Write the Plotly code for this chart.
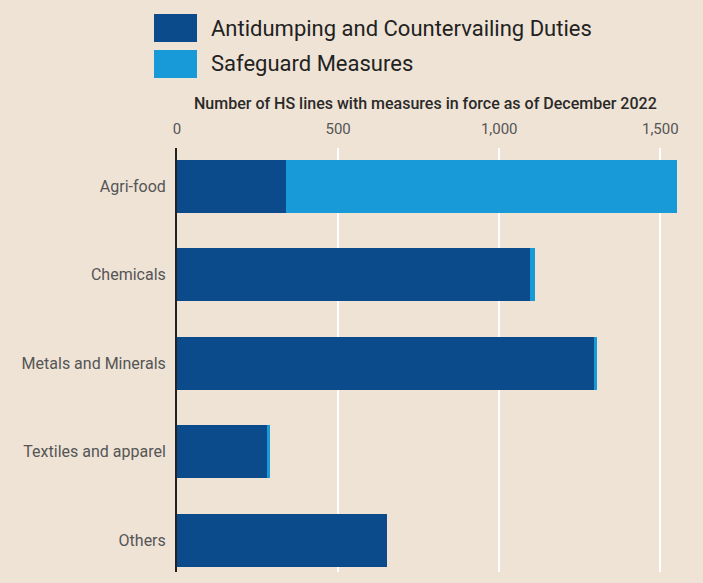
import plotly.graph_objects as go

# HS lines with trade remedy measures in force, December 2022
categories = ["Agri-food", "Chemicals", "Metals and Minerals", "Textiles and apparel", "Others"]
ad_cvd = [338, 1096, 1295, 280, 652]
safeguard = [1215, 16, 9, 9, 0]

series_names = ["Antidumping and Countervailing Duties", "Safeguard Measures"]
series_colors = ["#0B4A8B", "#1899D8"]

BG = "#EFE3D5"
W, H = 703, 583
ML, MR, MT, MB = 177, 4, 148, 11

fig = go.Figure()
for name, vals, color in zip(series_names, [ad_cvd, safeguard], series_colors):
    fig.add_trace(go.Bar(
        y=categories, x=vals, name=name, orientation="h",
        marker=dict(color=color, line=dict(width=0)),
        width=0.6, showlegend=False,
    ))

# px -> paper helpers for the header elements
pw, ph = W - ML - MR, H - MT - MB
def px_x(x):
    return (x - ML) / pw
def px_y(y):
    return (H - MB - y) / ph

shapes, annotations = [], []
for i, (name, color) in enumerate(zip(series_names, series_colors)):
    top = 14 + i * 36
    shapes.append(dict(type="rect", xref="paper", yref="paper",
                       x0=px_x(154), x1=px_x(197), y0=px_y(top + 28), y1=px_y(top),
                       fillcolor=color, line=dict(width=0)))
    annotations.append(dict(text=name, xref="paper", yref="paper",
                            x=px_x(209), y=px_y(top + 14), xanchor="left", yanchor="middle",
                            showarrow=False, font=dict(family="Roboto", size=22, color="#222")))

annotations.append(dict(text="Number of HS lines with measures in force as of December 2022",
                        xref="paper", yref="paper", x=px_x(425), y=px_y(103),
                        xanchor="center", yanchor="middle", showarrow=False,
                        font=dict(family="Roboto", size=16, color="#2a2a2a", weight=500)))

fig.update_layout(
    width=W, height=H,
    margin=dict(l=ML, r=MR, t=MT, b=MB, pad=0),
    paper_bgcolor=BG, plot_bgcolor=BG,
    barmode="stack", bargap=0.4,
    shapes=shapes, annotations=annotations,
    font=dict(family="Roboto", color="#555"),
    xaxis=dict(side="top", range=[0, 1620], tickvals=[0, 500, 1000, 1500],
               ticktext=["0", "500", "1,000", "1,500"],
               showgrid=True, gridcolor="#FFFFFF", gridwidth=2, zeroline=False,
               ticks="outside", ticklen=7, tickcolor=BG,
               tickfont=dict(size=15, color="#555")),
    yaxis=dict(range=[4.36, -0.43], showgrid=False, zeroline=False,
               showline=True, linecolor="#222", linewidth=2,
               ticks="outside", ticklen=6, tickcolor=BG,
               tickfont=dict(size=16, color="#555")),
)

fig.write_html("out.html")
